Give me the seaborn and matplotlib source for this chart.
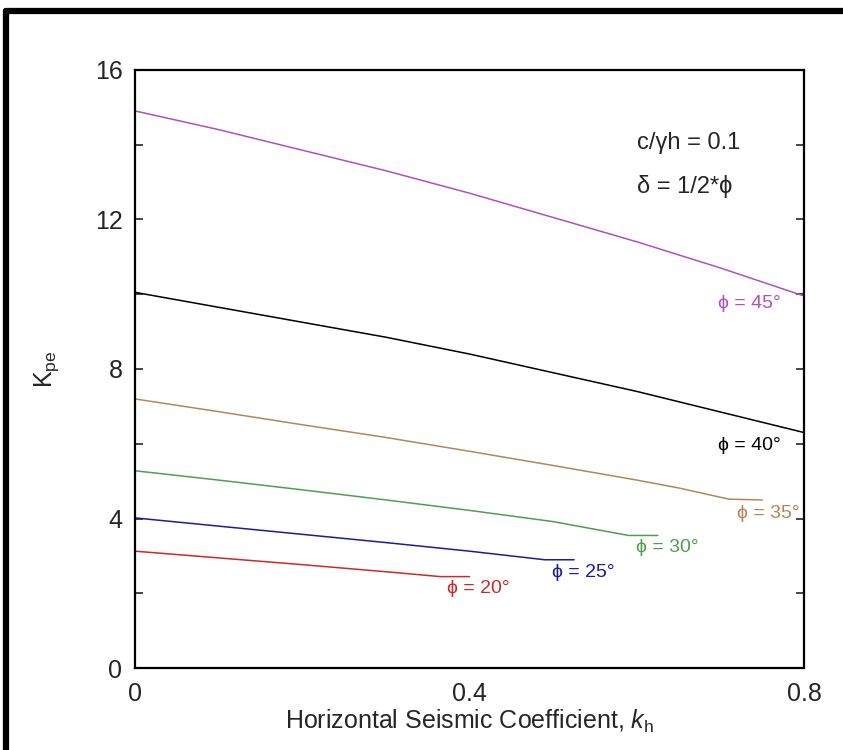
import matplotlib
matplotlib.use("Agg")
import matplotlib.pyplot as plt
import seaborn as sns
import pandas as pd
from matplotlib.lines import Line2D

# ---- data ----
kh_45 = [0.0, 0.1, 0.2, 0.3, 0.4, 0.5, 0.6, 0.7, 0.8]
kpe_45 = [14.9, 14.4, 13.85, 13.3, 12.7, 12.05, 11.4, 10.7, 9.95]

kh_40 = [0.0, 0.1, 0.2, 0.3, 0.4, 0.5, 0.6, 0.7, 0.8]
kpe_40 = [10.05, 9.65, 9.25, 8.85, 8.4, 7.9, 7.4, 6.85, 6.3]

kh_35 = [0.0, 0.1, 0.2, 0.3, 0.4, 0.5, 0.6, 0.65, 0.71, 0.75]
kpe_35 = [7.2, 6.86, 6.51, 6.17, 5.8, 5.42, 5.03, 4.82, 4.52, 4.5]

kh_30 = [0.0, 0.1, 0.2, 0.3, 0.4, 0.5, 0.59, 0.625]
kpe_30 = [5.28, 5.03, 4.77, 4.5, 4.22, 3.92, 3.55, 3.55]

kh_25 = [0.0, 0.1, 0.2, 0.3, 0.4, 0.49, 0.525]
kpe_25 = [4.02, 3.8, 3.58, 3.36, 3.13, 2.9, 2.9]

kh_20 = [0.0, 0.1, 0.2, 0.3, 0.365, 0.4]
kpe_20 = [3.13, 2.95, 2.77, 2.58, 2.45, 2.45]

series_names = ["45", "40", "35", "30", "25", "20"]
series_colors = ["#b050c0", "#000000", "#b4875a", "#4f9f4f", "#1c1c9c", "#cc2a2a"]
label_texts = ["ϕ = 45°", "ϕ = 40°", "ϕ = 35°", "ϕ = 30°", "ϕ = 25°", "ϕ = 20°"]
label_x = [0.697, 0.697, 0.72, 0.599, 0.498, 0.373]
label_y = [9.75, 5.95, 4.15, 3.24, 2.57, 2.14]

y_ticks = [0, 4, 8, 12, 16]
x_ticks = [0, 0.4, 0.8]
x_tick_labels = ["0", "0.4", "0.8"]

all_kh = [kh_45, kh_40, kh_35, kh_30, kh_25, kh_20]
all_kpe = [kpe_45, kpe_40, kpe_35, kpe_30, kpe_25, kpe_20]

rows = []
for name, xs, ys in zip(series_names, all_kh, all_kpe):
    for xv, yv in zip(xs, ys):
        rows.append({"kh": xv, "Kpe": yv, "phi": name})
df = pd.DataFrame(rows)

sns.set_style("white")
plt.rcParams["font.family"] = ["Liberation Sans", "DejaVu Sans"]
plt.rcParams["mathtext.fontset"] = "custom"
plt.rcParams["mathtext.rm"] = "Liberation Sans"
plt.rcParams["mathtext.it"] = "Liberation Sans:italic"

fig = plt.figure(figsize=(8.43, 7.5), dpi=100)
ax = fig.add_axes([0.160, 0.109, 0.794, 0.798])

sns.lineplot(data=df, x="kh", y="Kpe", hue="phi", hue_order=series_names,
             palette=dict(zip(series_names, series_colors)), legend=False,
             linewidth=1.1, ax=ax, estimator=None, sort=False)

for t, xx, yy, c in zip(label_texts, label_x, label_y, series_colors):
    ax.text(xx, yy, t, color=c, fontsize=14, ha="left", va="center", clip_on=True)

ax.text(0.60, 14.05, "c/γh = 0.1", fontsize=17, ha="left", va="center")
ax.text(0.60, 12.87, "δ = 1/2*ϕ", fontsize=17, ha="left", va="center")

ax.set_xlim(0, 0.8)
ax.set_ylim(0, 16)
ax.set_xticks(x_ticks)
ax.set_xticklabels(x_tick_labels)
ax.set_yticks(y_ticks)
ax.set_yticks([2, 6, 10, 14], minor=True)
ax.tick_params(axis="x", length=0, labelsize=18, pad=10)
ax.tick_params(axis="y", which="both", direction="in", length=6, width=1.2,
               left=True, right=True, labelsize=18, pad=9)
ax.set_xlabel("Horizontal Seismic Coefficient, $k_{\\rm h}$", fontsize=18, labelpad=1)
ax.set_ylabel("K$_{\\rm pe}$", fontsize=18, labelpad=24)
for s in ax.spines.values():
    s.set_linewidth(1.6)
    s.set_color("black")

# outer black frame (left and top edges visible)
fig.add_artist(Line2D([0.007, 0.007], [0.0, 0.986], transform=fig.transFigure,
                      color="black", linewidth=4.5))
fig.add_artist(Line2D([0.007, 1.0], [0.986, 0.986], transform=fig.transFigure,
                      color="black", linewidth=4.5))

fig.savefig("out.png", dpi=100)
